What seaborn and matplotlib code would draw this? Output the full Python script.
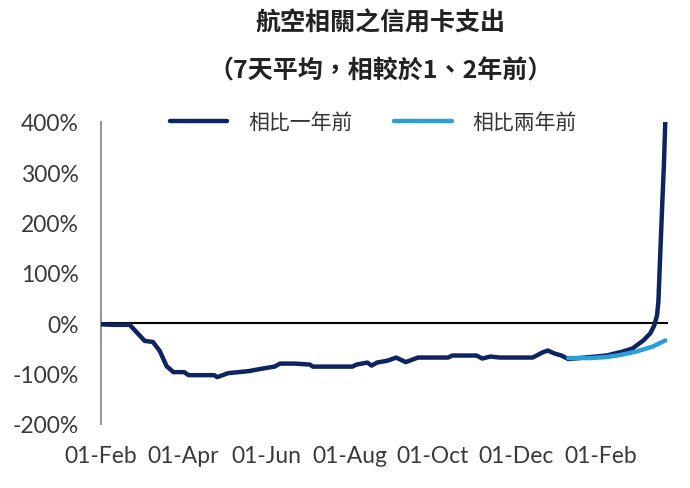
import matplotlib
matplotlib.use("Agg")
import matplotlib.pyplot as plt
import matplotlib.dates as mdates
from matplotlib.patches import Rectangle
import pandas as pd
import seaborn as sns

# airline-related card spending, 7 day avg, % vs 1 year ago
dates_1y = ["2020-02-01", "2020-02-10", "2020-02-22", "2020-03-04", "2020-03-10",
            "2020-03-15", "2020-03-20", "2020-03-25", "2020-04-02", "2020-04-05",
            "2020-04-24", "2020-04-26", "2020-05-04", "2020-05-19", "2020-05-29",
            "2020-06-07", "2020-06-11", "2020-06-22", "2020-07-03", "2020-07-05",
            "2020-08-03", "2020-08-06", "2020-08-14", "2020-08-17", "2020-08-21",
            "2020-08-29", "2020-09-04", "2020-09-11", "2020-09-18", "2020-09-20",
            "2020-10-12", "2020-10-15", "2020-11-02", "2020-11-06", "2020-11-12",
            "2020-11-19", "2020-12-13", "2020-12-20", "2020-12-24", "2020-12-29",
            "2021-01-03", "2021-01-08", "2021-01-20", "2021-02-05", "2021-02-17",
            "2021-02-24", "2021-03-04", "2021-03-09", "2021-03-12", "2021-03-14",
            "2021-03-15", "2021-03-16", "2021-03-17", "2021-03-18", "2021-03-19",
            "2021-03-20"]
values_1y = [-2, -3, -3, -35, -37,
             -55, -85, -97, -97, -103,
             -103, -107, -99, -95, -90,
             -86, -80, -80, -82, -86,
             -86, -82, -78, -84, -78,
             -74, -68, -77, -70, -68,
             -68, -64, -64, -70, -66,
             -68, -68, -58, -54, -60,
             -64, -71, -68, -64, -56,
             -50, -34, -20, -4, 16,
             44, 115, 183, 250, 314,
             400]

# % vs 2 years ago
dates_2y = ["2021-01-08", "2021-01-25", "2021-02-05", "2021-02-15", "2021-02-27",
            "2021-03-11", "2021-03-20"]
values_2y = [-69, -69, -67, -63, -56, -46, -34]

label_1y = "相比一年前"
label_2y = "相比兩年前"
yticks = [-200, -100, 0, 100, 200, 300, 400]
xticks = ["2020-02-01", "2020-04-01", "2020-06-01", "2020-08-01",
          "2020-10-01", "2020-12-01", "2021-02-01"]

df = pd.concat([
    pd.DataFrame({"date": pd.to_datetime(dates_1y), "value": values_1y, "series": label_1y}),
    pd.DataFrame({"date": pd.to_datetime(dates_2y), "value": values_2y, "series": label_2y}),
])

sns.set_style("white")
plt.rcParams["font.family"] = ["Noto Sans CJK TC", "DejaVu Sans"]

fig = plt.figure(figsize=(6.9, 4.89), dpi=100)
ax = fig.add_axes([0.1464, 0.1309, 0.8217, 0.6176])

ax.axhline(0, color="black", lw=1.5, zorder=1)
sns.lineplot(data=df, x="date", y="value", hue="series",
             palette={label_1y: "#0d2460", label_2y: "#2a9fd8"},
             lw=3.2, ax=ax, legend=True, zorder=3)

ax.set_ylim(-200, 400)
ax.set_xlim(pd.Timestamp("2020-02-01"), pd.Timestamp("2021-03-22"))
ax.set_yticks(yticks)
ax.set_yticklabels([f"{v}%" for v in yticks])
ax.set_xticks(pd.to_datetime(xticks))
ax.xaxis.set_major_formatter(mdates.DateFormatter("%d-%b"))
ax.set_xlabel("")
ax.set_ylabel("")

for s in ["top", "right", "bottom"]:
    ax.spines[s].set_visible(False)
ax.spines["left"].set_color("#8a8a8a")
ax.spines["left"].set_linewidth(1.3)

ax.tick_params(axis="both", length=0, labelsize=16.5, labelcolor="#3a3a3a")
ax.tick_params(axis="y", pad=16)
ax.tick_params(axis="x", pad=15)
for t in ax.get_xticklabels() + ax.get_yticklabels():
    t.set_family(["Lato", "DejaVu Sans"])

leg = ax.legend(loc="center left", bbox_to_anchor=(0.122, 1.0), ncol=2, frameon=False,
                fontsize=15, borderaxespad=0, borderpad=0,
                handlelength=2.75, handletextpad=1.0, columnspacing=2.0)
for line in leg.get_lines():
    line.set_linewidth(3.2)
for t in leg.get_texts():
    t.set_color("#333333")

fig.text(0.551, 0.953, "航空相關之信用卡支出", ha="center", va="center",
         fontsize=18, fontweight="bold", color="#222222")
fig.text(0.551, 0.855, "（7天平均，相較於1、2年前）", ha="center", va="center",
         fontsize=18, fontweight="bold", color="#222222")

# the source image is cut just below the date labels
fig.patches.append(Rectangle((0, 0), 1, 0.043, transform=fig.transFigure,
                             color="white", zorder=5))

fig.savefig("out.png", dpi=100)
